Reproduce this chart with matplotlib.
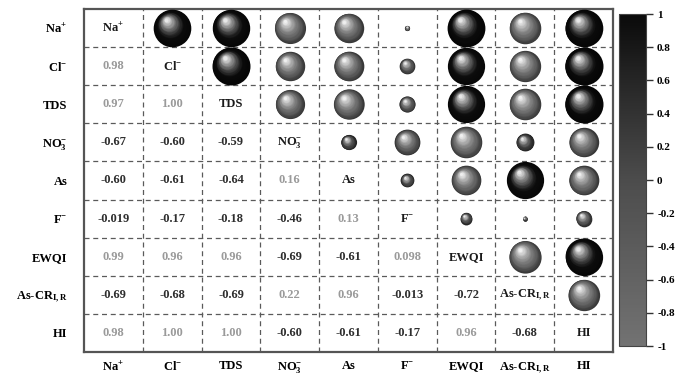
import numpy as np
import matplotlib
matplotlib.use('Agg')
import matplotlib.pyplot as plt
from matplotlib.colors import LinearSegmentedColormap, Normalize, to_rgb
from matplotlib.transforms import offset_copy
import matplotlib.cm as cm

plt.rcParams['font.family'] = ['Liberation Serif', 'DejaVu Serif']
plt.rcParams['font.weight'] = 'bold'
plt.rcParams['mathtext.fontset'] = 'custom'
plt.rcParams['mathtext.rm'] = 'Liberation Serif:bold'
plt.rcParams['mathtext.bf'] = 'Liberation Serif:bold'
plt.rcParams['mathtext.it'] = 'Liberation Serif:bold:italic'
plt.rcParams['mathtext.default'] = 'regular'

# variables and lower triangle of the correlation matrix
labels = [r'Na$^{+}$', r'Cl$^{-}$', 'TDS', r'NO$_{3}^{-}$', 'As', r'F$^{-}$',
          'EWQI', r'As-CR$_{\mathrm{I,R}}$', 'HI']
lower = [
    [],
    [0.98],
    [0.97, 1.00],
    [-0.67, -0.60, -0.59],
    [-0.60, -0.61, -0.64, 0.16],
    [-0.019, -0.17, -0.18, -0.46, 0.13],
    [0.99, 0.96, 0.96, -0.69, -0.61, 0.098],
    [-0.69, -0.68, -0.69, 0.22, 0.96, -0.013, -0.72],
    [0.98, 1.00, 1.00, -0.60, -0.61, -0.17, 0.96, -0.68],
]
value_text = [
    [],
    ['0.98'],
    ['0.97', '1.00'],
    ['-0.67', '-0.60', '-0.59'],
    ['-0.60', '-0.61', '-0.64', '0.16'],
    ['-0.019', '-0.17', '-0.18', '-0.46', '0.13'],
    ['0.99', '0.96', '0.96', '-0.69', '-0.61', '0.098'],
    ['-0.69', '-0.68', '-0.69', '0.22', '0.96', '-0.013', '-0.72'],
    ['0.98', '1.00', '1.00', '-0.60', '-0.61', '-0.17', '0.96', '-0.68'],
]
cbar_ticks = [-1, -0.8, -0.6, -0.4, -0.2, 0, 0.2, 0.4, 0.6, 0.8, 1]

n = len(labels)
corr = np.eye(n)
for i, row in enumerate(lower):
    for j, v in enumerate(row):
        corr[i, j] = v
        corr[j, i] = v

cmap = LinearSegmentedColormap.from_list(
    'grays', [(0.0, '#727272'), (0.5, '#4c4c4c'), (0.8, '#262626'), (1.0, '#0a0a0a')])
norm = Normalize(-1, 1)

fig = plt.figure(figsize=(6.83, 3.78), dpi=100)
ax = fig.add_axes([84 / 683, 26 / 378, 529 / 683, 343 / 378])
ax.set_xlim(-0.5, n - 0.5)
ax.set_ylim(n - 0.5, -0.5)

# dashed cell grid
for k in range(1, n):
    ax.axhline(k - 0.5, color='#5a5a5a', lw=0.9, ls=(0, (4, 3)), zorder=1)
    ax.axvline(k - 0.5, color='#5a5a5a', lw=0.9, ls=(0, (4, 3)), zorder=1)

# shaded spheres in the upper triangle
full_d = 38 * 0.72  # diameter in points for |r| = 1
ts = np.linspace(0, 1, 24)
white = np.array([1.0, 1.0, 1.0])
for i in range(n):
    for j in range(i + 1, n):
        r = corr[i, j]
        D = full_d * np.sqrt(abs(r))
        base = np.array(to_rgb(cmap(norm(r))))
        dark = base * 0.55
        for k, t in enumerate(ts):
            if t < 0.3:
                c = dark + (base - dark) * (t / 0.3)
            else:
                f = ((t - 0.3) / 0.7) ** 1.3 * 0.9
                c = base + (white - base) * f
            d = D * (1 - 0.9 * t)
            off = 0.22 * D * t
            tr = offset_copy(ax.transData, fig=fig, x=-off * 0.7, y=off, units='points')
            ax.scatter([j], [i], s=d ** 2, color=c, linewidths=0,
                       transform=tr, zorder=3 + k * 0.01)

# numbers in the lower triangle, names on the diagonal
for i in range(n):
    for j in range(i):
        col = '#9a9a9a' if corr[i, j] >= 0 else '#2e2e2e'
        ax.text(j, i, value_text[i][j], ha='center', va='center',
                fontsize=9, color=col, fontweight='bold', zorder=2)
    ax.text(i, i, labels[i], ha='center', va='center', fontsize=9,
            color='#1a1a1a', fontweight='bold', zorder=2)

ax.set_xlim(-0.5, n - 0.5)
ax.set_ylim(n - 0.5, -0.5)
ax.set_xticks(range(n))
ax.set_yticks(range(n))
ax.set_xticklabels(labels, fontsize=9, fontweight='bold')
ax.set_yticklabels(labels, fontsize=9, fontweight='bold')
ax.tick_params(length=0, pad=12)
ax.tick_params(axis='x', pad=6)
for s in ax.spines.values():
    s.set_color('#555555')
    s.set_linewidth(1.6)

# colorbar
cax = fig.add_axes([619 / 683, 32 / 378, 27 / 683, 332 / 378])
sm = cm.ScalarMappable(norm=norm, cmap=cmap)
cb = fig.colorbar(sm, cax=cax, ticks=cbar_ticks)
cb.ax.set_yticklabels([f'{v:g}' for v in cbar_ticks], fontsize=8, fontweight='bold')
cb.ax.tick_params(length=5, width=1, color='#333333', pad=3)
cb.outline.set_edgecolor('#444444')
cb.outline.set_linewidth(0.8)

fig.savefig('out.png', dpi=100)
